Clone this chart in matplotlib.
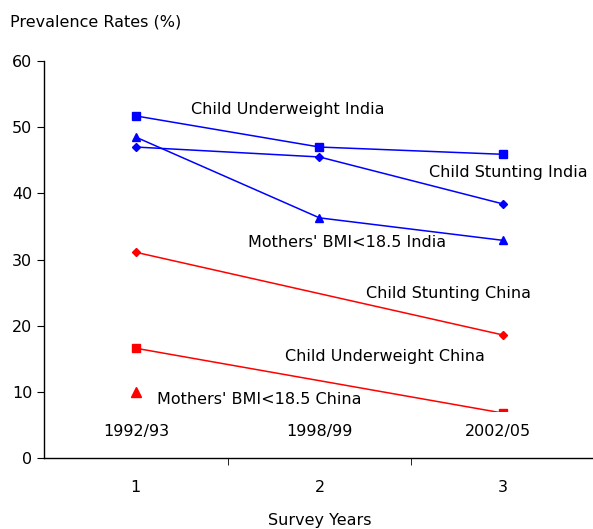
import numpy as np
import matplotlib.pyplot as plt

# survey rounds and prevalence rates (%)
rounds = [1, 2, 3]
years = ['1992/93', '1998/99', '2002/05']
year_pos = [1, 2, 2.97]
india_underweight = [51.7, 47.0, 45.9]
india_stunting = [47.0, 45.5, 38.4]
india_bmi = [48.5, 36.3, 32.9]
china_rounds = [1, 3]
china_stunting = [31.1, 18.6]
china_underweight = [16.6, 6.8]
china_bmi = [10.0]

plt.rcParams['font.family'] = ['DejaVu Sans']
FS = 11.5

fig = plt.figure(figsize=(5.93, 5.29), dpi=100)
ax = fig.add_axes([0.0742, 0.134, 0.929, 0.7507])

ax.plot(rounds, india_underweight, color='#0000ff', lw=1.1, marker='s', ms=5.5)
ax.plot(rounds, india_stunting, color='#0000ff', lw=1.1, marker='D', ms=4.5)
ax.plot(rounds, india_bmi, color='#0000ff', lw=1.1, marker='^', ms=6)
ax.plot(china_rounds, china_stunting, color='#ff0000', lw=1.1, marker='D', ms=4.5)
ax.plot(china_rounds, china_underweight, color='#ff0000', lw=1.1, marker='s', ms=5.5)
ax.plot(rounds[:1], china_bmi, color='#ff0000', lw=0, marker='^', ms=7)

labels = [
    ('Child Underweight India', 1.30, 52.6),
    ('Child Stunting India', 2.598, 43.1),
    ("Mothers' BMI<18.5 India", 1.609, 32.6),
    ('Child Stunting China', 2.255, 24.8),
    ('Child Underweight China', 1.815, 15.4),
    ("Mothers' BMI<18.5 China", 1.114, 8.9),
]
for txt, x, y in labels:
    ax.text(x, y, txt, fontsize=FS, ha='left', va='center')

for r, yr in zip(year_pos, years):
    ax.text(r, 4.0, yr, fontsize=FS, ha='center', va='center', zorder=5,
            bbox=dict(boxstyle='square,pad=0.75', fc='white', ec='none'))

ax.set_xlim(0.5, 3.5)
ax.set_ylim(0, 60)
ax.set_yticks(np.arange(0, 61, 10))
ax.set_xticks(rounds)
ax.set_xticks([1.5, 2.5], minor=True)
ax.tick_params(axis='x', which='major', length=0, pad=16, labelsize=FS)
ax.tick_params(axis='x', which='minor', length=5, direction='out')
ax.tick_params(axis='y', length=5, direction='out', labelsize=FS)
ax.spines['top'].set_visible(False)
ax.spines['right'].set_visible(False)
for s in ['left', 'bottom']:
    ax.spines[s].set_linewidth(1.0)

fig.text(10 / 593, 1 - 22 / 529, 'Prevalence Rates (%)', fontsize=FS,
         ha='left', va='center')
fig.text(320 / 593, 1 - 520 / 529, 'Survey Years', fontsize=FS,
         ha='center', va='center')

fig.savefig('out.png', dpi=100)
